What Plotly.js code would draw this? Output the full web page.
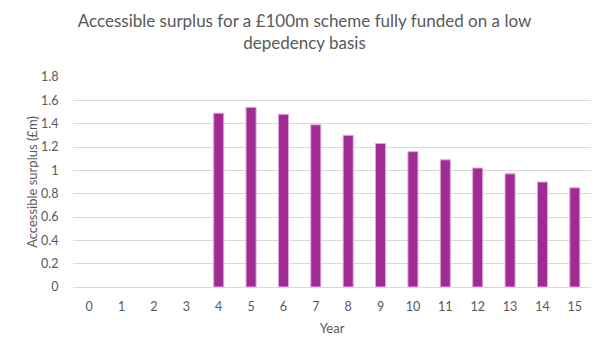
<!DOCTYPE html>
<html>
<head>
<meta charset="utf-8">
<script src="https://cdn.plot.ly/plotly-3.0.1.min.js"></script>
<style>html,body{margin:0;padding:0;background:#fff;}#chart{width:609px;height:357px;}</style>
</head>
<body>
<div id="chart"></div>
<script>
const years = ['0','1','2','3','4','5','6','7','8','9','10','11','12','13','14','15'];
const surplus = [0, 0, 0, 0, 1.49, 1.54, 1.48, 1.39, 1.30, 1.23, 1.16, 1.09, 1.02, 0.97, 0.90, 0.85];
const yTicks = [0, 0.2, 0.4, 0.6, 0.8, 1, 1.2, 1.4, 1.6, 1.8];
const yTickText = ['0', '0.2', '0.4', '0.6', '0.8', '1', '1.2', '1.4', '1.6', '1.8'];

const FONT = 'Lato, "Open Sans", Arial, sans-serif';
const GREY = '#595959';

Plotly.newPlot('chart', [{
  type: 'bar',
  x: years,
  y: surplus,
  marker: {color: '#A02B93', line: {color: '#E3A8DA', width: surplus.map(v => v > 0 ? 1 : 0)}},
  hoverinfo: 'skip'
}], {
  width: 609, height: 357,
  margin: {l: 73, r: 18, t: 77, b: 70},
  paper_bgcolor: '#fff', plot_bgcolor: '#fff',
  bargap: 0.69,
  showlegend: false,
  font: {family: FONT, color: GREY, size: 12},
  title: {
    text: 'Accessible surplus for a £100m scheme fully funded on a low<br>depedency basis',
    font: {family: FONT, size: 17, color: GREY},
    x: 0.5, xanchor: 'center', y: 0.925, yanchor: 'top'
  },
  xaxis: {
    type: 'category',
    tickfont: {family: FONT, size: 12.5, color: GREY},
    showgrid: false, zeroline: false, showline: false,
    ticks: 'outside', ticklen: 8, tickcolor: 'rgba(0,0,0,0)',
    title: {text: 'Year', font: {family: FONT, size: 13, color: GREY}, standoff: 10}
  },
  yaxis: {
    range: [0, 1.8],
    tickvals: yTicks, ticktext: yTickText,
    tickfont: {family: FONT, size: 12.5, color: GREY},
    showgrid: true, gridcolor: '#D9D9D9', gridwidth: 1,
    zeroline: true, zerolinecolor: '#D9D9D9', zerolinewidth: 1,
    showline: false, ticks: 'outside', ticklen: 11, tickcolor: 'rgba(0,0,0,0)',
    title: {text: 'Accessible surplus (£m)', font: {family: FONT, size: 13, color: GREY}, standoff: 0}
  }
}, {displayModeBar: false, staticPlot: true});
</script>
</body>
</html>
